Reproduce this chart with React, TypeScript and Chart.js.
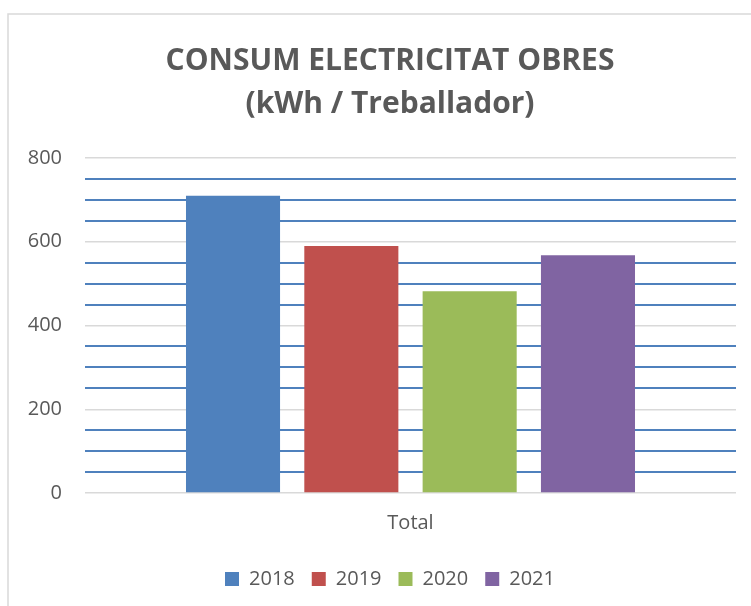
import React, { useEffect, useRef } from "react";
import { Chart, registerables } from "chart.js";

Chart.register(...registerables);

const categories = ["Total"];
const seriesNames = ["2018", "2019", "2020", "2021"];
const seriesValues = [[710], [590], [482], [568]];
const seriesColors = ["#4f81bd", "#c0504d", "#9bbb59", "#8064a2"];
const titleLines = ["CONSUM ELECTRICITAT OBRES", "(kWh / Treballador)"];
const yMin = 0;
const yMax = 800;
const yMinorStep = 50;
const yLabelStep = 200;

const TEXT = "#595959";
const FONT = "'Open Sans', sans-serif";

const frame = {
  id: "frame",
  beforeDraw(chart: any) {
    const c = chart.ctx;
    c.save();
    c.fillStyle = "#ffffff";
    c.fillRect(0, 0, chart.width, chart.height);
    c.strokeStyle = "#d9d9d9";
    c.lineWidth = 1.5;
    c.beginPath();
    c.moveTo(8, chart.height + 2);
    c.lineTo(8, 14);
    c.lineTo(chart.width + 2, 14);
    c.stroke();
    c.restore();
  },
};

export default function App() {
  const ref = useRef<HTMLCanvasElement>(null);
  useEffect(() => {
    if (!ref.current) return;
    const chart = new Chart(ref.current, {
      type: "bar",
      data: {
        labels: categories,
        datasets: seriesNames.map((n, i) => ({
          label: n,
          data: seriesValues[i],
          backgroundColor: seriesColors[i],
          borderWidth: 0,
          categoryPercentage: 0.727,
          barPercentage: 0.795,
        })),
      },
      plugins: [frame],
      options: {
        responsive: false,
        animation: false,
        devicePixelRatio: 1,
        layout: { padding: { top: 40, right: 0, bottom: 7, left: 0 } },
        plugins: {
          title: {
            display: true,
            text: titleLines,
            color: TEXT,
            font: { family: FONT, size: 30, weight: "bold", lineHeight: 43 / 30 },
            padding: { top: 0, bottom: 32 },
          },
          legend: {
            position: "bottom",
            labels: {
              color: TEXT,
              font: { family: FONT, size: 20 },
              boxWidth: 14,
              boxHeight: 14,
              padding: 17,
            },
          },
          tooltip: { enabled: false },
        },
        scales: {
          x: {
            afterFit: (s: any) => {
              s.height = 59;
            },
            grid: { display: false, drawTicks: false },
            border: { display: false },
            ticks: { color: TEXT, font: { family: FONT, size: 20 }, padding: 18 },
          },
          y: {
            min: yMin,
            max: yMax,
            afterFit: (s: any) => {
              s.width = 85;
            },
            border: { display: false },
            grid: {
              drawTicks: false,
              color: (ctx: any) => (ctx.tick && ctx.tick.value % yLabelStep === 0 ? "#d9d9d9" : "#4f81bd"),
              lineWidth: (ctx: any) => (ctx.tick && ctx.tick.value % yLabelStep === 0 ? 1.5 : 2),
            },
            ticks: {
              stepSize: yMinorStep,
              autoSkip: false,
              color: TEXT,
              font: { family: FONT, size: 20 },
              padding: 23,
              callback: (v: any) => (Number(v) % yLabelStep === 0 ? String(v) : ""),
            },
          },
          yRightSpace: {
            type: "linear",
            position: "right",
            min: yMin,
            max: yMax,
            afterFit: (s: any) => {
              s.width = 44;
            },
            border: { display: false },
            grid: { display: false, drawTicks: false },
            ticks: { display: false },
          },
        },
      },
    });
    return () => chart.destroy();
  }, []);
  return (
    <div style={{ position: "fixed", left: 0, top: 0, width: 751, height: 606, overflow: "hidden", background: "#fff" }}>
      <canvas ref={ref} width={780} height={606} style={{ width: 780, height: 606, display: "block" }} />
    </div>
  );
}
